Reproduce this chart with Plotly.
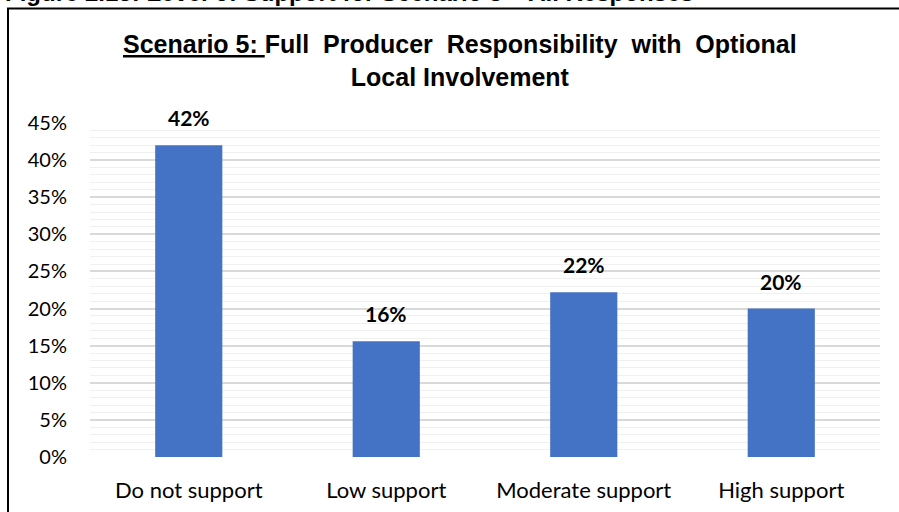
import plotly.graph_objects as go

# Survey responses: level of support for Scenario 5
categories = ["Do not support", "Low support", "Moderate support", "High support"]
shares = [0.42, 0.156, 0.222, 0.20]
y_tick_values = [0, 0.05, 0.10, 0.15, 0.20, 0.25, 0.30, 0.35, 0.40, 0.45]
y_tick_labels = ["0%", "5%", "10%", "15%", "20%", "25%", "30%", "35%", "40%", "45%"]

BAR_BLUE = "#4472C4"
AXIS_FONT = "Lato, 'Open Sans', sans-serif"
TITLE_FONT = "'Liberation Sans', Arial, sans-serif"

W, H = 899, 512
M_L, M_R, M_T, M_B = 90, 19, 123, 55

fig = go.Figure(
    go.Bar(
        x=categories,
        y=shares,
        marker=dict(color=BAR_BLUE, line=dict(width=0)),
        width=0.34,
        hoverinfo="skip",
    )
)

# Value labels above each bar
for cat, val in zip(categories, shares):
    fig.add_annotation(
        x=cat, y=val, xref="x", yref="y",
        text=f"<b>{val:.0%}</b>",
        showarrow=False, yanchor="bottom", yshift=13,
        font=dict(family=AXIS_FONT, size=21, color="#000000"),
    )

plot_w = W - M_L - M_R
plot_h = H - M_T - M_B


def px_x(p):
    return (p - M_L) / plot_w


def px_y(p):
    return (H - M_B - p) / plot_h


# Chart title (two lines, first part underlined)
fig.add_annotation(
    x=px_x(460), y=px_y(60), xref="paper", yref="paper",
    text="<b><u>Scenario 5: </u>Full&nbsp; Producer&nbsp; Responsibility&nbsp; with&nbsp; Optional<br>Local Involvement</b>",
    showarrow=False, xanchor="center", yanchor="middle", align="center",
    font=dict(family=TITLE_FONT, size=25, color="#000000"),
)

# Figure caption running off the top of the page
fig.add_annotation(
    x=px_x(3), y=px_y(-8), xref="paper", yref="paper",
    text="<b>Figure 2.13: Level of Support for Scenario 5 – All Responses</b>",
    showarrow=False, xanchor="left", yanchor="middle",
    font=dict(family=TITLE_FONT, size=24, color="#000000"),
)

# Chart frame (left and top edges visible)
fig.add_shape(
    type="rect", xref="paper", yref="paper",
    x0=px_x(8), x1=px_x(930), y0=px_y(540), y1=px_y(8.5),
    line=dict(color="#000000", width=2), fillcolor="rgba(0,0,0,0)", layer="above",
)

fig.update_layout(
    width=W, height=H,
    margin=dict(l=M_L, r=M_R, t=M_T, b=M_B, pad=0, autoexpand=False),
    paper_bgcolor="#ffffff", plot_bgcolor="#ffffff",
    showlegend=False,
    bargap=0.66,
    xaxis=dict(
        showgrid=False, showline=False, zeroline=False, ticks="",
        tickfont=dict(family=AXIS_FONT, size=22, color="#000000"),
        ticklabelstandoff=18, automargin=False,
    ),
    yaxis=dict(
        range=[0, 0.45],
        tickvals=y_tick_values, ticktext=y_tick_labels,
        showgrid=True, gridcolor="#d9d9d9", gridwidth=1.5,
        zeroline=False, showline=False, ticks="",
        tickfont=dict(family=AXIS_FONT, size=20, color="#000000"),
        ticklabelstandoff=22, automargin=False,
        minor=dict(dtick=0.01, showgrid=True, gridcolor="#f0f0f0", gridwidth=1),
    ),
)

fig.write_html("out.html")
